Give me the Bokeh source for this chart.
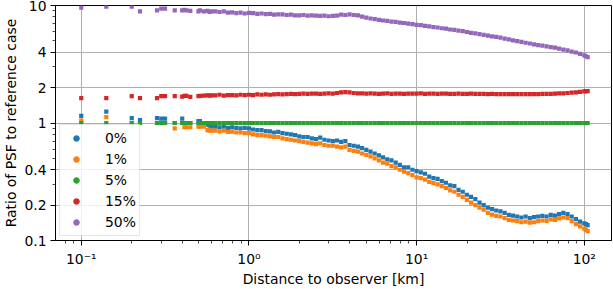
from bokeh.plotting import figure
from bokeh.models import FixedTicker, Legend, LegendItem, Range1d, ColumnDataSource
from bokeh.embed import file_html
from bokeh.resources import INLINE

# Distance to observer [km]
distance_km = [
    0.1, 0.141, 0.2, 0.224, 0.283, 0.3, 0.316, 0.361, 0.4, 0.412, 0.424, 0.447, 0.5, 0.51, 0.539, 0.566, 0.583, 0.6,
    0.631, 0.668, 0.708, 0.75, 0.794, 0.841, 0.891, 0.944, 1.0, 1.059, 1.122, 1.189, 1.259, 1.334, 1.413, 1.496,
    1.585, 1.679, 1.778, 1.884, 1.995, 2.113, 2.239, 2.371, 2.512, 2.661, 2.818, 2.985, 3.162, 3.35, 3.548, 3.758,
    3.981, 4.217, 4.467, 4.732, 5.012, 5.309, 5.623, 5.957, 6.31, 6.683, 7.079, 7.499, 7.943, 8.414, 8.913, 9.441,
    10.0, 10.59, 11.22, 11.89, 12.59, 13.34, 14.13, 14.96, 15.85, 16.79, 17.78, 18.84, 19.95, 21.13, 22.39, 23.71,
    25.12, 26.61, 28.18, 29.85, 31.62, 33.5, 35.48, 37.58, 39.81, 42.17, 44.67, 47.32, 50.12, 53.09, 56.23, 59.57,
    63.1, 66.83, 70.79, 74.99, 79.43, 84.14, 89.13, 94.41, 100.0, 102.3, 104.7,
]

ratio_0pct = [
    1.15, 1.25, 1.10, 1.06, 1.10, 1.09, 1.09, 1.00, 1.09, 1.00, 1.00, 1.00, 1.04, 1.04, 1.00, 0.97, 0.95, 0.93,
    0.93, 0.92, 0.93, 0.91, 0.92, 0.91, 0.90, 0.91, 0.90, 0.88,
    0.87, 0.87, 0.855, 0.85, 0.83, 0.84, 0.82, 0.81, 0.80, 0.79,
    0.77, 0.76, 0.76, 0.74, 0.73, 0.75, 0.72, 0.71, 0.70, 0.71,
    0.69, 0.70, 0.65, 0.64, 0.63, 0.61, 0.59, 0.57, 0.55, 0.53,
    0.51, 0.49, 0.48, 0.46, 0.44, 0.42, 0.42, 0.40, 0.39, 0.38,
    0.37, 0.35, 0.34, 0.335, 0.32, 0.31, 0.295, 0.29, 0.27, 0.26,
    0.245, 0.235, 0.225, 0.21, 0.20, 0.19, 0.185, 0.18, 0.177, 0.172,
    0.165, 0.163, 0.16, 0.157, 0.16, 0.155, 0.158, 0.16, 0.162, 0.16,
    0.165, 0.163, 0.168, 0.172, 0.168, 0.16, 0.152, 0.145, 0.14, 0.138, 0.135,
]

ratio_1pct = [
    1.05, 1.12, 1.00, 1.00, 1.00, 1.00, 1.00, 0.90, 1.00, 0.92, 0.92, 0.92, 0.93, 0.93, 0.93, 0.87, 0.86, 0.86,
    0.86, 0.85, 0.86, 0.84, 0.845, 0.83, 0.83, 0.82, 0.82, 0.80,
    0.79, 0.79, 0.78, 0.77, 0.76, 0.76, 0.74, 0.73, 0.72, 0.71,
    0.70, 0.69, 0.68, 0.67, 0.66, 0.67, 0.65, 0.64, 0.64, 0.63,
    0.62, 0.63, 0.59, 0.58, 0.57, 0.55, 0.535, 0.52, 0.50, 0.48,
    0.46, 0.45, 0.43, 0.42, 0.40, 0.385, 0.375, 0.36, 0.345, 0.34,
    0.33, 0.315, 0.308, 0.30, 0.29, 0.28, 0.267, 0.26, 0.245, 0.235,
    0.222, 0.21, 0.20, 0.19, 0.183, 0.172, 0.166, 0.162, 0.16, 0.155,
    0.15, 0.148, 0.146, 0.143, 0.145, 0.142, 0.143, 0.146, 0.148, 0.147,
    0.151, 0.15, 0.154, 0.157, 0.155, 0.146, 0.138, 0.132, 0.126, 0.123, 0.12,
]

ratio_5pct = [
    1.0, 1.0, 1.0, 1.0, 1.0, 1.0, 1.0, 1.0, 1.0, 1.0, 1.0, 1.0, 1.0, 1.0, 1.0, 1.0, 1.0, 1.0,
    1.0, 1.0, 1.0, 1.0, 1.0, 1.0, 1.0, 1.0, 1.0, 1.0,
    1.0, 1.0, 1.0, 1.0, 1.0, 1.0, 1.0, 1.0, 1.0, 1.0,
    1.0, 1.0, 1.0, 1.0, 1.0, 1.0, 1.0, 1.0, 1.0, 1.0,
    1.0, 1.0, 1.0, 1.0, 1.0, 1.0, 1.0, 1.0, 1.0, 1.0,
    1.0, 1.0, 1.0, 1.0, 1.0, 1.0, 1.0, 1.0, 1.0, 1.0,
    1.0, 1.0, 1.0, 1.0, 1.0, 1.0, 1.0, 1.0, 1.0, 1.0,
    1.0, 1.0, 1.0, 1.0, 1.0, 1.0, 1.0, 1.0, 1.0, 1.0,
    1.0, 1.0, 1.0, 1.0, 1.0, 1.0, 1.0, 1.0, 1.0, 1.0,
    1.0, 1.0, 1.0, 1.0, 1.0, 1.0, 1.0, 1.0, 1.0, 1.0, 1.0,
]

ratio_15pct = [
    1.63, 1.63, 1.69, 1.63, 1.63, 1.69, 1.69, 1.69, 1.68, 1.70, 1.70, 1.67, 1.69, 1.70, 1.71, 1.72, 1.71, 1.72,
    1.72, 1.74, 1.71, 1.73, 1.73, 1.72, 1.74, 1.73, 1.74, 1.73,
    1.75, 1.74, 1.75, 1.74, 1.75, 1.76, 1.75, 1.76, 1.77, 1.76,
    1.77, 1.78, 1.77, 1.78, 1.78, 1.77, 1.78, 1.79, 1.78, 1.80,
    1.82, 1.83, 1.82, 1.80, 1.79, 1.79, 1.78, 1.79, 1.78, 1.77,
    1.78, 1.79, 1.77, 1.78, 1.78, 1.77, 1.78, 1.78, 1.78, 1.79,
    1.77, 1.78, 1.78, 1.77, 1.78, 1.78, 1.77, 1.77, 1.78, 1.77,
    1.77, 1.78, 1.77, 1.77, 1.77, 1.76, 1.77, 1.76, 1.76, 1.76,
    1.76, 1.76, 1.76, 1.76, 1.76, 1.76, 1.76, 1.76, 1.77, 1.77,
    1.77, 1.78, 1.79, 1.79, 1.80, 1.81, 1.82, 1.84, 1.86, 1.87, 1.87,
]

ratio_50pct = [
    9.6, 9.8, 9.8, 8.9, 9.1, 9.4, 9.4, 9.1, 9.1, 9.2, 9.1, 9.0, 8.9, 9.1, 8.9, 9.0, 8.8, 8.9,
    8.9, 8.8, 8.9, 8.7, 8.75, 8.6, 8.7, 8.55, 8.65, 8.6,
    8.5, 8.55, 8.45, 8.5, 8.35, 8.4, 8.4, 8.3, 8.35, 8.25,
    8.25, 8.3, 8.2, 8.25, 8.2, 8.15, 8.2, 8.1, 8.15, 8.2,
    8.35, 8.3, 8.4, 8.3, 8.25, 8.05, 7.9, 7.75, 7.65, 7.55,
    7.45, 7.4, 7.3, 7.25, 7.15, 7.1, 7.0, 6.95, 6.85, 6.8,
    6.7, 6.65, 6.55, 6.5, 6.4, 6.35, 6.25, 6.2, 6.1, 6.05,
    5.95, 5.85, 5.8, 5.7, 5.63, 5.55, 5.45, 5.4, 5.32, 5.22,
    5.15, 5.05, 4.98, 4.9, 4.82, 4.75, 4.67, 4.6, 4.55, 4.48,
    4.43, 4.38, 4.3, 4.22, 4.15, 4.05, 3.98, 3.88, 3.77, 3.7, 3.63,
]

series_labels = ["0%", "1%", "5%", "15%", "50%"]
series_values = [ratio_0pct, ratio_1pct, ratio_5pct, ratio_15pct, ratio_50pct]
series_colors = ["#1f77b4", "#ff7f0e", "#2ca02c", "#d62728", "#9467bd"]

x_major_ticks = [0.1, 1, 10, 100]
x_major_labels = ["10\u207b\u00b9", "10\u2070", "10\u00b9", "10\u00b2"]
x_minor_ticks = [0.08, 0.09, 0.2, 0.3, 0.4, 0.5, 0.6, 0.7, 0.8, 0.9, 2, 3, 4, 5, 6, 7, 8, 9,
                 20, 30, 40, 50, 60, 70, 80, 90]
y_major_ticks = [0.1, 0.2, 0.4, 1, 2, 4, 10]
y_major_labels = ["0.1", "0.2", "0.4", "1", "2", "4", "10"]
y_minor_ticks = [0.3, 0.5, 0.6, 0.7, 0.8, 0.9, 3, 5, 6, 7, 8, 9]

x_axis_title = "Distance to observer [km]"
y_axis_title = "Ratio of PSF to reference case"

# an off-screen point for each legend swatch (legend glyphs need data)
legend_anchor_x = [1e-4]
legend_anchor_y = [1e-4]

FONT = "DejaVu Sans"
FS = "13.9px"

p = figure(width=613, height=289, x_axis_type="log", y_axis_type="log",
           x_range=Range1d(0.0702, 145.3), y_range=Range1d(0.1, 10),
           output_backend="svg", toolbar_location=None,
           min_border_left=52, min_border_right=2, min_border_top=5, min_border_bottom=48)
p.background_fill_color = "white"
p.border_fill_color = "white"
p.outline_line_color = "black"
p.outline_line_width = 1

for vals, col in zip(series_values, series_colors):
    src = ColumnDataSource(dict(x=distance_km, y=vals))
    p.scatter(x="x", y="y", source=src, marker="square", size=4.2,
              fill_color=col, line_color=None)

items = []
for lab, col in zip(series_labels, series_colors):
    r = p.scatter(x=legend_anchor_x, y=legend_anchor_y, marker="circle", size=6,
                  fill_color=col, line_color=col)
    items.append(LegendItem(label=lab, renderers=[r]))

legend = Legend(items=items, location=(4, 4), padding=3, spacing=1,
                glyph_width=26, glyph_height=14, label_height=20, label_standoff=16,
                label_text_font=FONT, label_text_font_size=FS, label_text_color="black",
                border_line_color="#cccccc", border_line_width=1,
                background_fill_color="white", background_fill_alpha=0.8, margin=0)
p.add_layout(legend)

p.xaxis.ticker = FixedTicker(ticks=x_major_ticks, minor_ticks=x_minor_ticks)
p.yaxis.ticker = FixedTicker(ticks=y_major_ticks, minor_ticks=y_minor_ticks)
p.xaxis.major_label_overrides = dict(zip(x_major_ticks, x_major_labels))
p.yaxis.major_label_overrides = dict(zip(y_major_ticks, y_major_labels))

for ax in (p.xaxis, p.yaxis):
    ax.axis_line_color = "black"
    ax.major_tick_line_color = "black"
    ax.minor_tick_line_color = "black"
    ax.major_tick_out = 5
    ax.major_tick_in = 0
    ax.minor_tick_out = 3
    ax.minor_tick_in = 0
    ax.minor_tick_line_width = 0.7
    ax.major_label_standoff = 4
    ax.major_label_text_font = FONT
    ax.major_label_text_font_size = FS
    ax.major_label_text_color = "black"
    ax.axis_label_text_font = FONT
    ax.axis_label_text_font_size = FS
    ax.axis_label_text_font_style = "normal"
    ax.axis_label_text_color = "black"
    ax.axis_label_standoff = 2

p.xaxis.major_label_standoff = 5
p.xaxis.axis_label_standoff = 1
p.xaxis.axis_label = x_axis_title
p.yaxis.axis_label = y_axis_title

p.xgrid.grid_line_color = "#b0b0b0"
p.ygrid.grid_line_color = "#b0b0b0"
p.xgrid.grid_line_width = 1
p.ygrid.grid_line_width = 1

open("out.html", "w").write(file_html(p, INLINE))
